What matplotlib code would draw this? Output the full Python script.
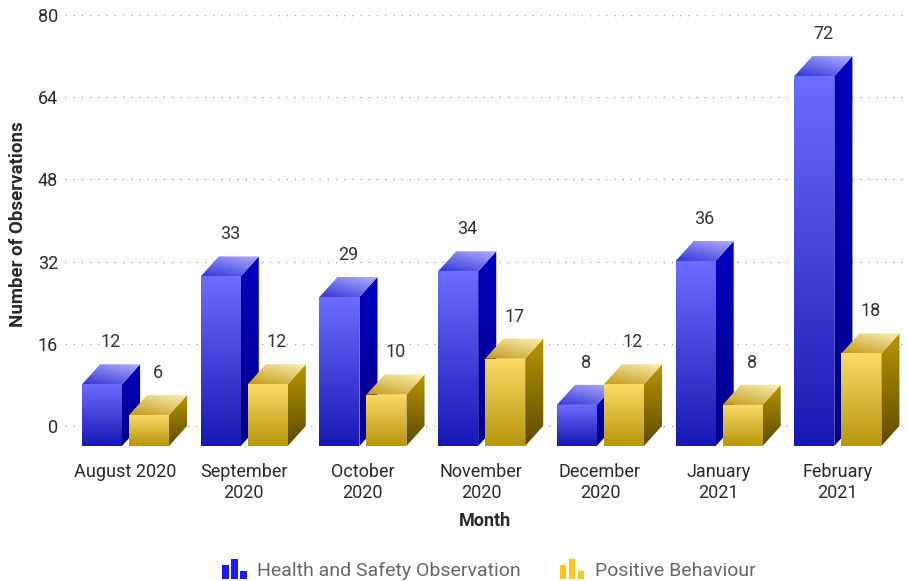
import numpy as np
import matplotlib
matplotlib.use("Agg")
import matplotlib.pyplot as plt
from matplotlib.patches import Polygon, Rectangle
from matplotlib.colors import to_rgb
from matplotlib.legend_handler import HandlerBase

plt.rcParams['font.family'] = ['Roboto', 'DejaVu Sans']

# data
months = ["August 2020", "September\n2020", "October\n2020", "November\n2020",
          "December\n2020", "January\n2021", "February\n2021"]
health = [12, 33, 29, 34, 8, 36, 72]
positive = [6, 12, 10, 17, 12, 8, 18]
series_names = ["Health and Safety Observation", "Positive Behaviour"]
yticks = [0, 16, 32, 48, 64, 80]

# 3d look: bar width, depth offsets (data units)
W = 0.337
DX = 0.152
DY = 3.9

blue = dict(front=("#6c6cff", "#1818b4"), side=("#0000c0", "#000088"),
            top=("#3434d8", "#b4b4ff"), icon="#1a1aff")
gold = dict(front=("#fbda66", "#b8960e"), side=("#b89600", "#5e4a00"),
            top=("#c09a18", "#fff2b8"), icon="#ffc61a")


def grad_face(ax, pts, c0, c1, z, diag=False):
    """fill polygon pts with gradient c0 (bottom) -> c1 (top)"""
    poly = Polygon(pts, closed=True, facecolor="none", edgecolor="none")
    ax.add_patch(poly)
    xs = [p[0] for p in pts]
    ys = [p[1] for p in pts]
    n = 64
    t = np.linspace(0, 1, n)
    if diag:
        tt = (t[:, None] * 0.6 + t[None, :] * 0.4)
    else:
        tt = np.repeat(t[:, None], 2, axis=1)
    a, b = np.array(to_rgb(c0)), np.array(to_rgb(c1))
    img = a[None, None, :] * (1 - tt[..., None]) + b[None, None, :] * tt[..., None]
    im = ax.imshow(img, extent=(min(xs), max(xs), min(ys), max(ys)),
                   origin="lower", aspect="auto", interpolation="bilinear",
                   zorder=z)
    im.set_clip_path(poly)


def bar3d(ax, x0, v, col, z):
    # front face
    grad_face(ax, [(x0, -DY), (x0 + W, -DY), (x0 + W, v - DY), (x0, v - DY)],
              col["front"][1], col["front"][0], z)
    # side face
    grad_face(ax, [(x0 + W, -DY), (x0 + W + DX, 0), (x0 + W + DX, v), (x0 + W, v - DY)],
              col["side"][1], col["side"][0], z)
    # top face
    grad_face(ax, [(x0, v - DY), (x0 + W, v - DY), (x0 + W + DX, v), (x0 + DX, v)],
              col["top"][0], col["top"][1], z, diag=True)
    ax.text(x0 + (W + DX) / 2, v + 4.3, str(v), ha="center", va="center",
            fontsize=13, color="#333333", zorder=z + 1)


class BarIcon(HandlerBase):
    def __init__(self, color):
        super().__init__()
        self.color = color

    def create_artists(self, legend, orig_handle, xdescent, ydescent,
                       width, height, fontsize, trans):
        bw = width * 0.26
        step = width * 0.37
        arts = []
        for k, h in enumerate([0.7, 1.0, 0.4]):
            r = Rectangle((xdescent + k * step, -ydescent - 1),
                          bw, (height + 2) * h, facecolor=self.color,
                          edgecolor="none", transform=trans)
            arts.append(r)
        return arts


fig = plt.figure(figsize=(9.07, 5.81), dpi=100)
ax = fig.add_axes([0.0717, 0.2227, 0.9261, 0.7515])

z = 3
for i in range(len(months)):
    bar3d(ax, i - 0.362, health[i], blue, z)
    z += 2
    bar3d(ax, i + 0.034, positive[i], gold, z)
    z += 2

ax.set_xlim(-0.505, 6.57)
ax.set_ylim(-5, 80)
ax.set_yticks(yticks)
ax.set_xticks(range(len(months)))
ax.set_xticklabels(months, linespacing=1.25)
ax.tick_params(axis="both", length=0, labelsize=13, colors="#2a2a2a")
ax.tick_params(axis="y", pad=5)
ax.tick_params(axis="x", pad=8)
for s in ax.spines.values():
    s.set_visible(False)
for yv in yticks:
    ax.axhline(yv, color="#a0a0a0", lw=1.0, linestyle=(0, (0.9, 5)), zorder=1)

ax.set_xlabel("Month", fontsize=13, fontweight="bold", color="#2a2a2a", labelpad=7)
ax.set_ylabel("Number of Observations", fontsize=13.5, fontweight="bold", color="#2a2a2a")
ax.yaxis.set_label_coords(-0.045, 0.52)

h1 = Rectangle((0, 0), 1, 1)
h2 = Rectangle((0, 0), 1, 1)
leg = fig.legend([h1, h2], series_names, loc="center",
                 bbox_to_anchor=(489 / 907, 1 - 570 / 581), ncol=2, frameon=False,
                 fontsize=14, handlelength=1.25, handleheight=1.0,
                 handletextpad=0.55, columnspacing=2.0,
                 handler_map={h1: BarIcon(blue["icon"]), h2: BarIcon(gold["icon"])})
for t in leg.get_texts():
    t.set_color("#666666")

fig.savefig("out.png", dpi=100)
